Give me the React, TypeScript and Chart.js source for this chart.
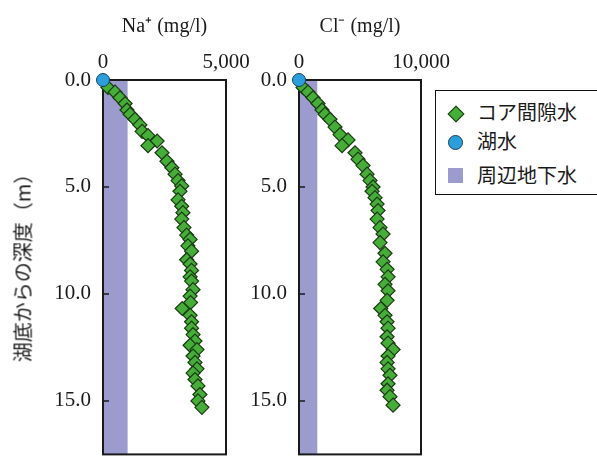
import React, { useEffect, useRef } from 'react';
import { Chart, registerables } from 'chart.js';

Chart.register(...registerables);

// ---- data ----
const naDepth = [0.35, 0.57, 0.83, 1.1, 1.4, 1.6, 1.84, 2.1, 2.4, 2.6, 2.85, 3.07, 3.4, 3.8, 4.1, 4.4, 4.7, 4.95, 5.2, 5.6, 5.9, 6.2, 6.5, 6.9, 7.25, 7.45, 7.75, 8.0, 8.4, 8.6, 8.9, 9.2, 9.4, 9.8, 10.1, 10.4, 10.68, 11.0, 11.3, 11.6, 11.9, 12.2, 12.4, 12.6, 12.9, 13.2, 13.5, 13.7, 14.0, 14.3, 14.7, 15.0, 15.3];
const naValues = [200, 490, 690, 900, 975, 1100, 1300, 1500, 1590, 1830, 2200, 1830, 2400, 2600, 2800, 2930, 3050, 3200, 3130, 3050, 3200, 3250, 3200, 3290, 3400, 3540, 3450, 3600, 3400, 3540, 3600, 3540, 3600, 3660, 3540, 3560, 3220, 3540, 3600, 3600, 3660, 3740, 3540, 3820, 3660, 3740, 3820, 3660, 3740, 3860, 3940, 3860, 4020];

const clDepth = [0.35, 0.57, 0.83, 1.1, 1.4, 1.6, 1.84, 2.2, 2.55, 2.8, 3.07, 3.4, 3.7, 4.0, 4.4, 4.7, 5.0, 5.2, 5.5, 5.8, 6.1, 6.5, 6.9, 7.2, 7.6, 8.1, 8.5, 8.85, 9.2, 9.55, 9.85, 10.3, 10.68, 11.0, 11.3, 11.6, 12.0, 12.3, 12.6, 12.9, 13.2, 13.5, 13.8, 14.2, 14.5, 14.8, 15.2];
const clValues = [330, 740, 1150, 1560, 1890, 2130, 2540, 2950, 3360, 4020, 3530, 4590, 4840, 5250, 5580, 5820, 6070, 5990, 6230, 6400, 6480, 6400, 6640, 6890, 6640, 7050, 6890, 7220, 7300, 7050, 7300, 7220, 6700, 7050, 7220, 7300, 7220, 7300, 7710, 7300, 7220, 7300, 7460, 7300, 7220, 7460, 7710];

const lakeDepth = [0];
const lakeNa = [0];
const lakeCl = [0];

const groundwaterNaMax = 1000;
const groundwaterClMax = 1500;

const DEPTH_MIN = 0;
const DEPTH_MAX = 17.5;
const depthLabelTicks = [0, 5, 10, 15];

const seriesLabels = ['コア間隙水', '湖水', '周辺地下水'];
const yAxisTitle = '湖底からの深度（m）';

// ---- styles ----
const GREEN = '#45ad38';
const GREEN_BORDER = '#1a3a12';
const BLUE = '#2a9fdc';
const BLUE_BORDER = '#1b3f5c';
const BAND = '#9b9bcd';
const INK = '#1a1a1a';
const SERIF = "'Liberation Serif', 'Times New Roman', serif";
const GOTHIC = "'Noto Sans CJK JP', 'Noto Sans', sans-serif";

const framePlugin = {
  id: 'frame',
  beforeDatasetsDraw(chart: any, _args: any, opts: any) {
    const { ctx, chartArea: a, scales } = chart;
    const x = scales.x;
    const y = scales.y;
    ctx.save();
    const x0 = x.getPixelForValue(0);
    const x1 = x.getPixelForValue(opts.band);
    ctx.fillStyle = BAND;
    ctx.fillRect(x0, a.top, x1 - x0, a.bottom - a.top);
    ctx.strokeStyle = INK;
    ctx.lineWidth = 1.5;
    ctx.beginPath();
    y.ticks.forEach((t: any) => {
      const py = y.getPixelForValue(t.value);
      ctx.moveTo(a.left, py);
      ctx.lineTo(a.left + 6, py);
    });
    x.ticks.forEach((t: any) => {
      const px = x.getPixelForValue(t.value);
      ctx.moveTo(px, a.top);
      ctx.lineTo(px, a.top + 6);
    });
    ctx.stroke();
    ctx.lineWidth = 2;
    ctx.strokeRect(a.left, a.top, a.right - a.left, a.bottom - a.top);
    ctx.restore();
  },
};

function makeConfig(opts: {
  depth: number[];
  values: number[];
  lakeDepth: number[];
  lakeValues: number[];
  xMax: number;
  xStep: number;
  title: string;
  band: number;
  yWidth: number;
  padRight: number;
}) {
  const core = opts.values.map((v, i) => ({ x: v, y: opts.depth[i] }));
  const lake = opts.lakeValues.map((v, i) => ({ x: v, y: opts.lakeDepth[i] }));
  return {
    type: 'scatter' as const,
    data: {
      datasets: [
        {
          label: seriesLabels[1],
          data: lake,
          pointStyle: 'circle',
          pointRadius: 6.5,
          backgroundColor: BLUE,
          borderColor: BLUE_BORDER,
          borderWidth: 1,
          clip: false,
        },
        {
          label: seriesLabels[0],
          data: core,
          pointStyle: 'rectRot',
          pointRadius: 7,
          backgroundColor: GREEN,
          borderColor: GREEN_BORDER,
          borderWidth: 1.2,
          clip: false,
        },
      ],
    },
    options: {
      responsive: false,
      animation: false,
      events: [],
      layout: { padding: { left: 0, right: opts.padRight, top: 0, bottom: 0 } },
      plugins: {
        legend: { display: false },
        tooltip: { enabled: false },
        frame: { band: opts.band },
      },
      scales: {
        x: {
          type: 'linear',
          position: 'top',
          min: 0,
          max: opts.xMax,
          grid: { display: false, drawTicks: false },
          border: { display: false },
          ticks: {
            stepSize: opts.xStep,
            autoSkip: false,
            maxRotation: 0,
            padding: 5,
            color: INK,
            font: { family: SERIF, size: 21 },
            callback: (v: number) => (v === 0 || v === opts.xMax ? v.toLocaleString('en-US') : null),
          },
          title: {
            display: true,
            text: opts.title,
            color: INK,
            font: { family: SERIF, size: 20 },
            padding: { top: 15, bottom: 0 },
          },
          afterFit: (s: any) => {
            s.height = 80;
          },
        },
        y: {
          type: 'linear',
          reverse: true,
          min: DEPTH_MIN,
          max: DEPTH_MAX,
          grid: { display: false, drawTicks: false },
          border: { display: false },
          ticks: {
            stepSize: 1,
            autoSkip: false,
            padding: 12,
            color: INK,
            font: { family: SERIF, size: 21 },
            callback: (v: number) => (depthLabelTicks.includes(v) ? v.toFixed(1) : null),
          },
          afterFit: (s: any) => {
            s.width = opts.yWidth;
          },
        },
      },
    },
    plugins: [framePlugin],
  };
}

export default function App() {
  const leftRef = useRef<HTMLCanvasElement>(null);
  const rightRef = useRef<HTMLCanvasElement>(null);

  useEffect(() => {
    const c1 = new Chart(
      leftRef.current as HTMLCanvasElement,
      makeConfig({
        depth: naDepth,
        values: naValues,
        lakeDepth,
        lakeValues: lakeNa,
        xMax: 5000,
        xStep: 1000,
        title: 'Na⁺ (mg/l)',
        band: groundwaterNaMax,
        yWidth: 103,
        padRight: 34,
      }) as any
    );
    const c2 = new Chart(
      rightRef.current as HTMLCanvasElement,
      makeConfig({
        depth: clDepth,
        values: clValues,
        lakeDepth,
        lakeValues: lakeCl,
        xMax: 10000,
        xStep: 2000,
        title: 'Cl⁻ (mg/l)',
        band: groundwaterClMax,
        yWidth: 69,
        padRight: 49,
      }) as any
    );
    return () => {
      c1.destroy();
      c2.destroy();
    };
  }, []);

  const rowText: React.CSSProperties = {
    position: 'absolute',
    left: 41,
    fontFamily: GOTHIC,
    fontSize: 20,
    color: INK,
    lineHeight: '22px',
    whiteSpace: 'nowrap',
  };

  return (
    <div
      style={{
        position: 'fixed',
        left: 0,
        top: 0,
        width: 597,
        height: 466,
        overflow: 'hidden',
        background: '#fff',
      }}
    >
      <canvas ref={leftRef} width={260} height={479} style={{ position: 'absolute', left: 0, top: 0 }} />
      <canvas ref={rightRef} width={240} height={479} style={{ position: 'absolute', left: 230, top: 0 }} />
      <div
        style={{
          position: 'absolute',
          left: 22,
          top: 263,
          transform: 'translate(-50%, -50%) rotate(-90deg)',
          fontFamily: GOTHIC,
          fontSize: 20,
          color: INK,
          whiteSpace: 'nowrap',
        }}
      >
        {yAxisTitle}
      </div>
      <div
        style={{
          position: 'absolute',
          left: 435,
          top: 90,
          width: 175,
          height: 103,
          border: '1.5px solid #111',
          background: '#fff',
        }}
      >
        <div
          style={{
            position: 'absolute',
            left: 14,
            top: 17,
            width: 10,
            height: 10,
            background: GREEN,
            border: `1px solid ${GREEN_BORDER}`,
            transform: 'rotate(45deg)',
          }}
        />
        <div style={{ ...rowText, top: 10 }}>{seriesLabels[0]}</div>
        <div
          style={{
            position: 'absolute',
            left: 12,
            top: 44,
            width: 13,
            height: 13,
            borderRadius: '50%',
            background: BLUE,
            border: `1px solid ${BLUE_BORDER}`,
          }}
        />
        <div style={{ ...rowText, top: 39 }}>{seriesLabels[1]}</div>
        <div
          style={{
            position: 'absolute',
            left: 12,
            top: 77,
            width: 15,
            height: 15,
            background: BAND,
          }}
        />
        <div style={{ ...rowText, top: 73 }}>{seriesLabels[2]}</div>
      </div>
    </div>
  );
}
